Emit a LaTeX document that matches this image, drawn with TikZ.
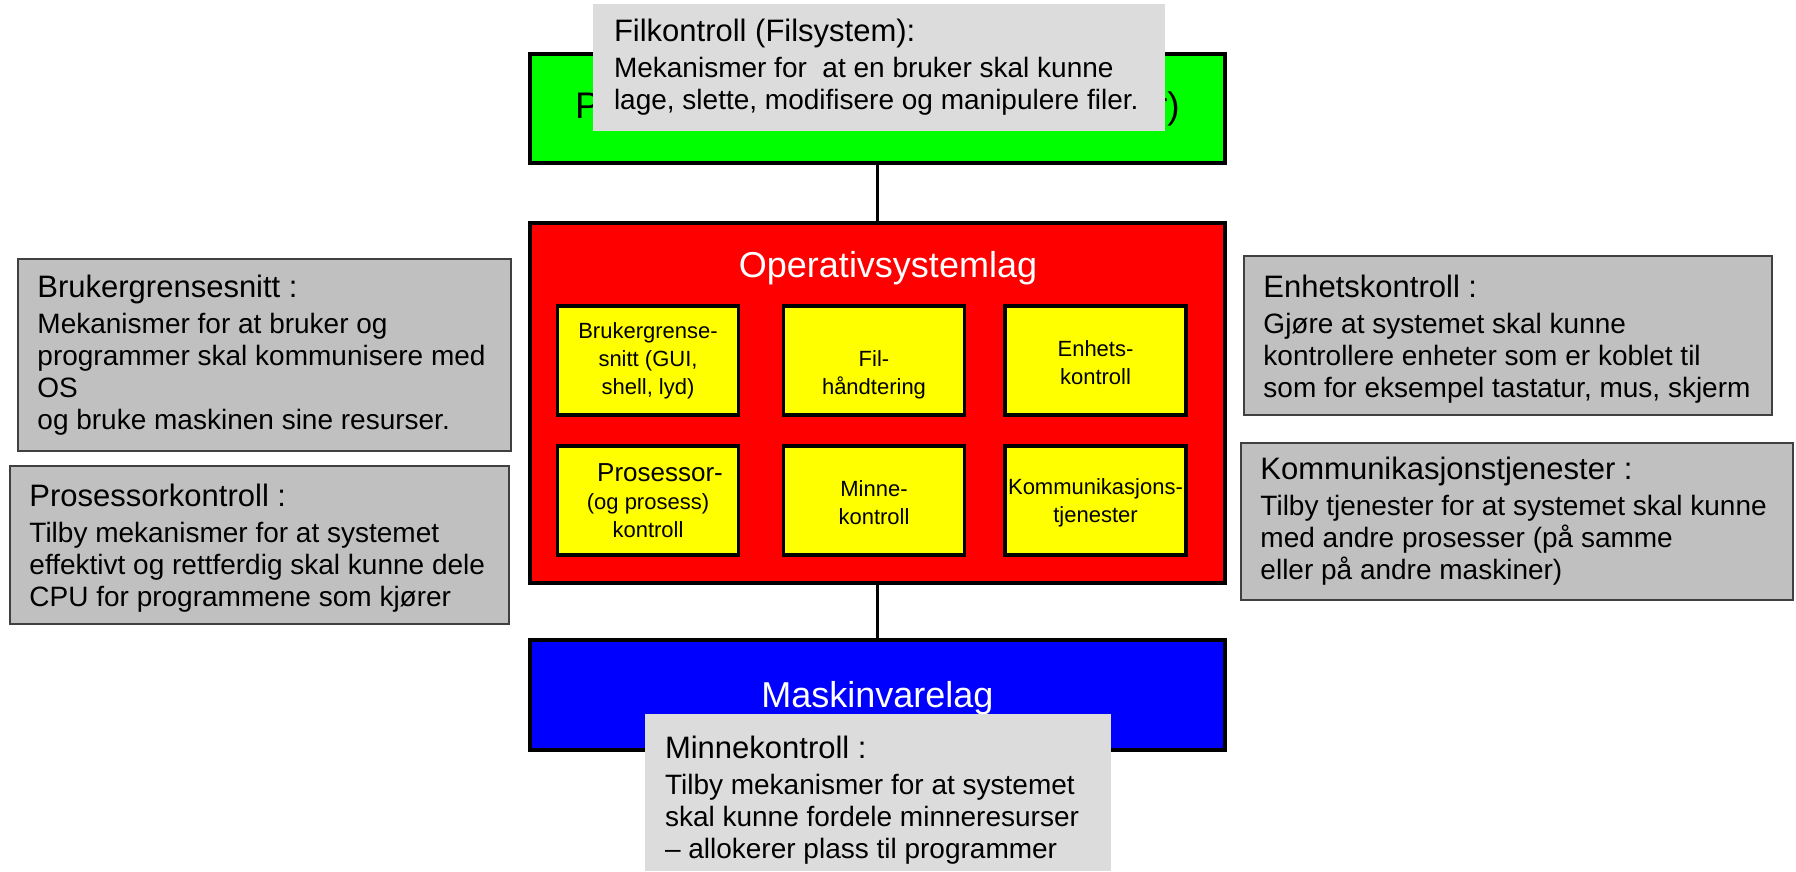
\documentclass[tikz,border=0pt]{standalone}
\usepackage{fontspec}
\setmainfont{Liberation Sans}
\definecolor{calgray}{HTML}{C0C0C0}
\definecolor{callight}{HTML}{DCDCDC}
\definecolor{lgreen}{HTML}{00FF00}
\definecolor{lred}{HTML}{FF0000}
\definecolor{lblue}{HTML}{0000FF}
\definecolor{lyellow}{HTML}{FFFF00}
\newcommand{\fsz}[2]{\fontsize{#1}{#2}\selectfont}
\begin{document}
\begin{tikzpicture}[x=1pt,y=-1pt,
  layerbox/.style={draw=black, line width=4pt, minimum width=695pt, inner sep=0pt},
  ybox/.style={draw=black, line width=3.5pt, fill=lyellow, minimum width=181pt, minimum height=109pt, inner sep=0pt},
  ytext/.style={font=\fsz{22}{28}, align=center, inner sep=0pt},
  callout/.style={draw=black!75, line width=1.5pt, fill=calgray, inner sep=0pt},
  calloutlight/.style={fill=callight, inner sep=0pt},
  ctext/.style={font=\fsz{28}{32}, align=left, inner sep=0pt, anchor=west},
  conn/.style={draw=black, line width=3pt}
]
\useasboundingbox (0,0) rectangle (1796,871);
\fill[white] (0,0) rectangle (1796,871);

% layers
\node[layerbox, fill=lgreen, minimum height=109pt, font=\fsz{37}{40}] (app) at (877.5,108.5) {Programvarelag (brukerprogrammer)};
\node[layerbox, fill=lred, minimum height=360pt] (os) at (877.5,403) {};
\node[layerbox, fill=lblue, minimum height=110pt] (hw) at (877.5,695) {};
\node[text=white, font=\fsz{36}{40}, inner sep=0pt] (hwtitle) at ([yshift=-3pt]hw.center) {Maskinvarelag};
\node[text=white, font=\fsz{36}{40}, inner sep=0pt] (ostitle) at (888,268) {Operativsystemlag};

\draw[conn] (app.south) -- (os.north);
\draw[conn] (os.south) -- (hw.north);

% yellow boxes
\node[ybox] (ui) at (648,360.5) {};
\node[ybox] (fil) at (874,360.5) {};
\node[ybox] (enh) at (1095.5,360.5) {};
\node[ybox] (cpu) at (648,500.5) {};
\node[ybox] (mem) at (874,500.5) {};
\node[ybox] (kom) at (1095.5,500.5) {};

\node[ytext] (uit) at (ui.center) {Brukergrense-\\snitt (GUI,\\shell, lyd)};
\node[ytext] (filt) at ([yshift=-14pt]fil.center) {Fil-\\håndtering};
\node[ytext] (enht) at ([yshift=-2pt]enh.center) {Enhets-\\kontroll};
\node[ytext] (cput) at (cpu.center) {{\fsz{26}{30}\hspace*{24pt}Prosessor-}\\(og prosess)\\kontroll};
\node[ytext] (memt) at ([yshift=-2pt]mem.center) {Minne-\\kontroll};
\node[ytext] (komt) at ([yshift=-2pt]kom.center) {Kommunikasjons-\\tjenester};

% side callouts
\node[callout, minimum width=493pt, minimum height=192pt] (bg) at (264.5,355) {};
\node[ctext] (bgt) at ([xshift=20pt]bg.west) {{\fsz{31}{32}Brukergrensesnitt :}\\[4pt]Mekanismer for at bruker og\\programmer skal kommunisere med\\OS\\og bruke maskinen sine resurser.};

\node[callout, minimum width=499pt, minimum height=158pt] (pk) at (259.5,545) {};
\node[ctext] (pkt) at ([xshift=20pt,yshift=-3pt]pk.west) {{\fsz{31}{32}Prosessorkontroll :}\\[4pt]Tilby mekanismer for at systemet\\effektivt og rettferdig skal kunne dele\\CPU for programmene som kjører};

\node[callout, minimum width=528pt, minimum height=159pt] (ek) at (1508,335.5) {};
\node[ctext] (ekt) at ([xshift=20pt,yshift=-4pt]ek.west) {{\fsz{31}{32}Enhetskontroll :}\\[4pt]Gjøre at systemet skal kunne\\kontrollere enheter som er koblet til\\som for eksempel tastatur, mus, skjerm};

\node[callout, minimum width=552pt, minimum height=157pt] (kt) at (1517,521.5) {};
\node[ctext] (ktt) at ([xshift=20pt]kt.west) {{\fsz{31}{32}Kommunikasjonstjenester :}\\[4pt]Tilby tjenester for at systemet skal kunne\\med andre prosesser (på samme\\eller på andre maskiner)};

% overlay callouts
\node[calloutlight, minimum width=572pt, minimum height=127pt] (fk) at (879,67.5) {};
\node[ctext] (fkt) at ([xshift=21pt]fk.west) {{\fsz{31}{32}Filkontroll (Filsystem):}\\[4pt]Mekanismer for\ \ at en bruker skal kunne\\lage, slette, modifisere og manipulere filer.};

\node[calloutlight, minimum width=466pt, minimum height=157pt] (mk) at (878,792.5) {};
\node[ctext] (mkt) at ([xshift=20pt, yshift=-8pt]mk.west) {{\fsz{31}{32}Minnekontroll :}\\[4pt]Tilby mekanismer for at systemet\\skal kunne fordele minneresurser\\– allokerer plass til programmer};
\end{tikzpicture}
\end{document}
